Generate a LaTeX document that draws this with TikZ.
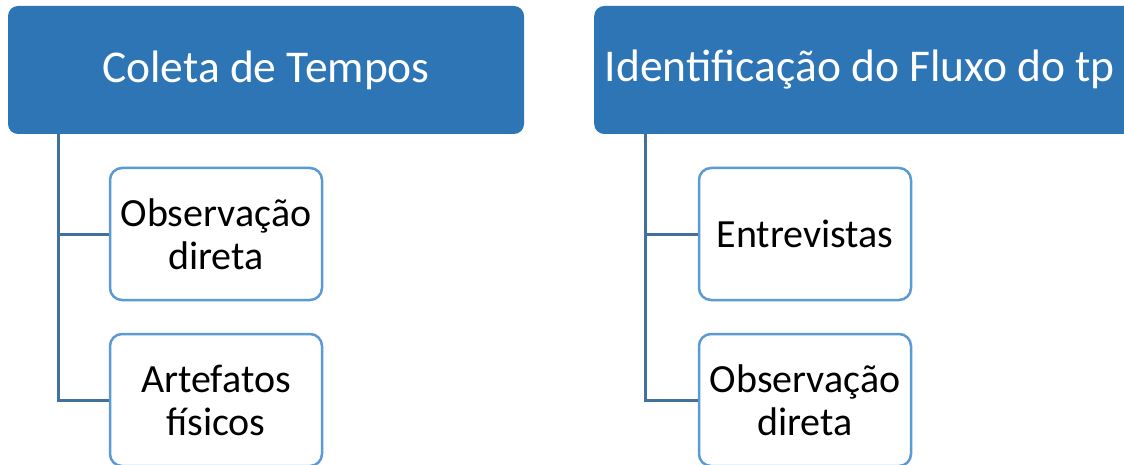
\documentclass[tikz,border=0pt]{standalone}
\usepackage{fontspec}
\setmainfont{Carlito}
\definecolor{headblue}{RGB}{46,117,182}
\definecolor{linkblue}{RGB}{65,113,156}
\definecolor{childblue}{RGB}{91,155,213}
\tikzset{
  head/.style={fill=headblue, draw=none, rounded corners=10pt, text=white,
    font=\fontsize{45.5}{54}\selectfont, inner sep=0pt},
  headtext/.style={text=white, font=\fontsize{45.5}{54}\selectfont, inner sep=0pt},
  child/.style={fill=white, draw=childblue, line width=2.5pt, rounded corners=12pt,
    minimum width=212pt, minimum height=132pt, inner sep=0pt, align=center,
    font=\fontsize{40}{43}\selectfont, text=black},
  conn/.style={draw=linkblue, line width=3pt}
}
\begin{document}
\begin{tikzpicture}[x=1pt,y=-1pt]
\useasboundingbox (0,0) rectangle (1124,465);
\clip (0,0) rectangle (1124,465);
% left branch
\node[head, minimum width=516pt, minimum height=128pt] (h1) at (266,70) {};
\node[headtext] (t1) at (266,70) {Coleta de Tempos};
\coordinate (s1) at (58,134);
\node[child] (c11) at (216,234) {Observação\\direta};
\node[child] (c12) at (216,400) {Artefatos\\físicos};
\draw[conn] (s1) |- (c11.west);
\draw[conn] (s1) |- (c12.west);
% right branch
\node[head, minimum width=540pt, minimum height=128pt, anchor=west] (h2) at (594,70) {};
\node[headtext] (t2) at (860,70) {Identificação do Fluxo do tp};
\coordinate (s2) at (645,134);
\node[child] (c21) at (805,234) {Entrevistas};
\node[child] (c22) at (805,400) {Observação\\direta};
\draw[conn] (s2) |- (c21.west);
\draw[conn] (s2) |- (c22.west);
\end{tikzpicture}
\end{document}
